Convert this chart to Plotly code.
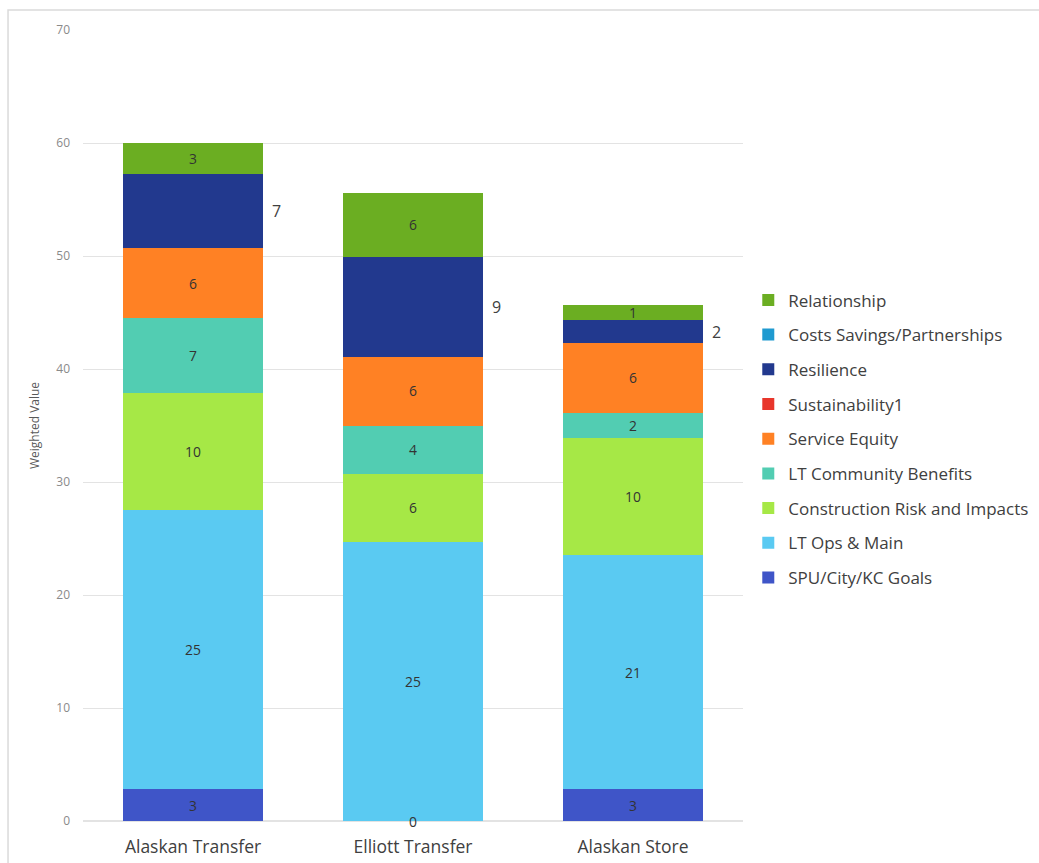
import plotly.graph_objects as go

# Options being compared
sites = ["Alaskan Transfer", "Elliott Transfer", "Alaskan Store"]

# Weighted value of each criterion, per option (stack order bottom -> top)
spu_city_kc_goals = [2.8, 0.0, 2.8]
lt_ops_main = [24.7, 24.7, 20.7]
construction_risk = [10.4, 6.0, 10.4]
lt_community_benefits = [6.6, 4.3, 2.2]
service_equity = [6.2, 6.1, 6.2]
sustainability1 = [0.0, 0.0, 0.0]
resilience = [6.6, 8.8, 2.0]
costs_savings = [0.0, 0.0, 0.0]
relationship = [2.7, 5.7, 1.4]

series = [
    ("SPU/City/KC Goals", spu_city_kc_goals, "#3F55C8"),
    ("LT Ops & Main", lt_ops_main, "#5ACAF2"),
    ("Construction Risk and Impacts", construction_risk, "#A6E846"),
    ("LT Community Benefits", lt_community_benefits, "#52CDB2"),
    ("Service Equity", service_equity, "#FF8124"),
    ("Sustainability1", sustainability1, "#E8362B"),
    ("Resilience", resilience, "#22398E"),
    ("Costs Savings/Partnerships", costs_savings, "#1F9AD0"),
    ("Relationship", relationship, "#6BAE22"),
]

# Series whose labels sit beside the bar instead of inside it
outside_label_series = {"Resilience"}

fig = go.Figure()
base = [0.0] * len(sites)
annotations = []
for k, (name, vals, color) in enumerate(series):
    inside = name not in outside_label_series and any(v > 0 for v in vals)
    fig.add_trace(go.Bar(
        name=name,
        x=sites,
        y=vals,
        marker=dict(color=color, line=dict(width=0)),
        text=[f"{v:.0f}" if v > 0 else "" for v in vals] if inside else None,
        textposition="inside" if inside else "none",
        insidetextanchor="middle",
        textangle=0,
        textfont=dict(size=14, color="#333333", family="Open Sans"),
        legendgroup=name,
        legendrank=1000 - k,  # top of the stack listed first
        hoverinfo="name+y",
    ))
    for i, v in enumerate(vals):
        mid = base[i] + v / 2
        if name in outside_label_series and v > 0:
            annotations.append(dict(
                x=sites[i], y=mid, xref="x", yref="y",
                text=f"{v:.0f}", showarrow=False,
                xanchor="left", xshift=77,
                font=dict(size=16, color="#404040", family="Open Sans"),
            ))
        elif name == "SPU/City/KC Goals" and v == 0:
            annotations.append(dict(
                x=sites[i], y=mid, xref="x", yref="y",
                text=f"{v:.0f}", showarrow=False,
                font=dict(size=14, color="#333333", family="Open Sans"),
            ))
        base[i] += v

fig.update_layout(
    width=1039,
    height=863,
    barmode="stack",
    bargap=0.36,
    paper_bgcolor="white",
    plot_bgcolor="white",
    margin=dict(l=83, r=296, t=30, b=42, autoexpand=False),
    font=dict(family="Open Sans", color="#404040"),
    uniformtext=dict(minsize=13, mode="show"),
    showlegend=True,
    legend=dict(
        x=1.008, y=0.681, xanchor="left", yanchor="top",
        traceorder="grouped",
        tracegroupgap=9.6,
        font=dict(size=17, color="#404040", family="Open Sans"),
        itemclick=False,
        bgcolor="rgba(0,0,0,0)",
    ),
    xaxis=dict(
        type="category",
        automargin=False,
        showgrid=False,
        showline=False,
        ticks="",
        ticklabelstandoff=13,
        tickfont=dict(size=17.5, color="#404040", family="Open Sans"),
    ),
    yaxis=dict(
        range=[0, 70],
        dtick=10,
        automargin=False,
        showgrid=True,
        gridcolor="#E3E3E3",
        gridwidth=1,
        zeroline=True,
        zerolinecolor="#E3E3E3",
        showline=False,
        ticks="",
        ticklabelstandoff=12,
        tickfont=dict(size=12, color="#8A8A8A", family="Open Sans"),
        title=dict(text="Weighted Value", standoff=14,
                   font=dict(size=12, color="#595959", family="Open Sans")),
    ),
    annotations=annotations,
    shapes=[dict(
        type="rect", xref="paper", yref="paper",
        x0=-0.1136, x1=1.46, y0=-0.07, y1=1.0253,
        line=dict(color="#DADADA", width=1.5),
        layer="below",
    )],
)

fig.write_html("out.html")
